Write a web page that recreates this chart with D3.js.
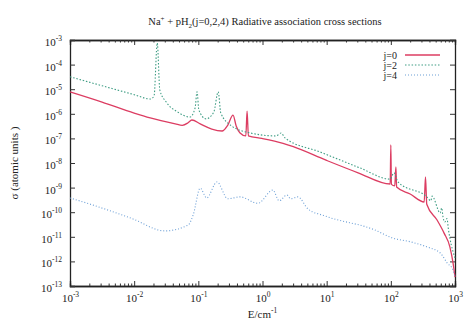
<!DOCTYPE html>
<html>
<head>
<meta charset="utf-8">
<script src="https://cdn.jsdelivr.net/npm/d3@7"></script>
<style>
  body { margin: 0; background: #fff; }
  svg text { font-family: "Liberation Serif", "DejaVu Serif", serif; fill: #222; }
</style>
</head>
<body>
<div id="chart"></div>
<script>
// j=0 (E in cm^-1, sigma in atomic units)
const j0E = [1.0e-3, 3.16e-3, 1.0e-2, 1.78e-2, 4.37e-2, 5.62e-2, 6.92e-2, 7.94e-2, 0.107, 0.162, 0.234,
  0.288, 0.347, 0.389, 0.447, 0.550, 0.575, 0.603, 0.977, 2.09, 3.02, 9.77, 30.9, 97.7, 100, 102, 115, 120,
  123, 200, 331, 347, 363, 525, 676, 832, 933, 1000];
const j0Sigma = [7.8e-6, 3.0e-6, 1.07e-6, 6.8e-7, 3.9e-7, 3.4e-7, 4.3e-7, 5.6e-7, 3.9e-7, 2.4e-7, 2.0e-7,
  3.5e-7, 8.9e-7, 3.2e-7, 1.66e-7, 1.26e-7, 1.29e-6, 1.26e-7, 1.0e-7, 6.3e-8, 4.6e-8, 1.3e-8, 4.0e-9,
  1.4e-9, 5.4e-8, 1.35e-9, 1.17e-9, 6.9e-9, 1.05e-9, 5.5e-10, 2.6e-10, 2.7e-9, 2.1e-10, 4.8e-11,
  1.41e-11, 3.9e-12, 8.5e-13, 2.3e-13];

// j=2
const j2E = [1.0e-3, 3.16e-3, 1.0e-2, 1.78e-2, 2.04e-2, 2.29e-2, 2.51e-2, 3.16e-2, 4.79e-2, 7.41e-2,
  8.91e-2, 9.55e-2, 0.102, 0.132, 0.174, 0.204, 0.224, 0.331, 0.646, 1.62, 1.95, 2.24, 7.94, 33.1, 97.7,
  112, 129, 363, 420, 440, 589, 620, 650, 692, 750, 790, 832, 1000];
const j2Sigma = [3.2e-5, 1.38e-5, 6.0e-6, 4.0e-6, 5.2e-6, 7.6e-4, 9.3e-6, 3.0e-6, 1.17e-6, 7.4e-7,
  1.74e-6, 7.8e-6, 1.41e-6, 6.2e-7, 1.17e-6, 7.8e-6, 1.07e-6, 3.2e-7, 1.66e-7, 1.26e-7, 1.66e-7, 1.05e-7,
  2.8e-8, 6.3e-9, 2.2e-9, 4.0e-9, 1.7e-9, 4.2e-10, 2.9e-10, 4.5e-10, 9.3e-11, 1.5e-10, 6.5e-11, 4.0e-11,
  5.5e-11, 2.0e-11, 8.9e-12, 1.38e-12];

// j=4
const j4E = [1.0e-3, 2.75e-3, 9.1e-3, 3.02e-2, 6.92e-2, 8.32e-2, 0.107, 0.135, 0.195, 0.288, 0.447,
  0.851, 1.45, 1.82, 2.40, 2.75, 3.55, 5.13, 9.33, 56.2, 107, 200, 363, 589, 759, 933, 1000];
const j4Sigma = [3.8e-10, 1.66e-10, 5.6e-11, 1.74e-11, 3.0e-11, 7.8e-11, 9.5e-10, 3.8e-10, 1.7e-9,
  3.5e-10, 4.2e-10, 2.3e-10, 7.9e-10, 2.9e-10, 5.0e-10, 3.5e-10, 4.2e-10, 1.35e-10, 7.1e-11, 1.9e-11,
  8.9e-12, 6.3e-12, 3.9e-12, 2.2e-12, 8.5e-13, 4.5e-13, 2.3e-13];

const xTickExp = [-3, -2, -1, 0, 1, 2, 3];
const yTickExp = [-3, -4, -5, -6, -7, -8, -9, -10, -11, -12, -13];
const legendLabels = ["j=0", "j=2", "j=4"];

const series = [
  { label: legendLabels[0], E: j0E, s: j0Sigma, color: "#dc3d62", dash: null, width: 1.3 },
  { label: legendLabels[1], E: j2E, s: j2Sigma, color: "#3f9d84", dash: "1.5,1.8", width: 1.1 },
  { label: legendLabels[2], E: j4E, s: j4Sigma, color: "#6c9fd6", dash: "1,2", width: 1.1 }
];

const W = 465, H = 329;
const margin = { top: 40, right: 10, bottom: 43, left: 70 };
const width = W - margin.left - margin.right;
const height = H - margin.top - margin.bottom;

const svg = d3.select("#chart").append("svg")
  .attr("width", W).attr("height", H);
const g = svg.append("g")
  .attr("transform", "translate(" + margin.left + "," + margin.top + ")");

const x = d3.scaleLog().domain([1e-3, 1e3]).range([0, width]);
const y = d3.scaleLog().domain([1e-13, 1e-3]).range([height, 0]);

const xMajor = xTickExp.map(e => Math.pow(10, e));
const yMajor = yTickExp.map(e => Math.pow(10, e));
const xMinor = [];
xMajor.slice(0, -1).forEach(d => { for (let k = 2; k < 10; k++) xMinor.push(d * k); });

// superscript labels "10^n"
function powLabel(sel, exps) {
  sel.selectAll(".tick text").each(function(d, i) {
    const t = d3.select(this).text("");
    t.append("tspan").text("10");
    t.append("tspan").attr("dy", "-5").attr("font-size", "7.5px").text(exps[i]);
  });
}

// bottom
const gx = g.append("g").attr("transform", "translate(0," + height + ")")
  .call(d3.axisBottom(x).tickValues(xMajor).tickSize(-5).tickPadding(8).tickFormat(() => ""));
gx.selectAll(".tick text").attr("font-size", "11px");
powLabel(gx, xTickExp);
g.append("g").attr("transform", "translate(0," + height + ")")
  .call(d3.axisBottom(x).tickValues(xMinor).tickSize(-2.5).tickFormat(""));
// top
g.append("g").call(d3.axisTop(x).tickValues(xMajor).tickSize(-5).tickFormat(""));
g.append("g").call(d3.axisTop(x).tickValues(xMinor).tickSize(-2.5).tickFormat(""));
// left
const gy = g.append("g")
  .call(d3.axisLeft(y).tickValues(yMajor).tickSize(-5).tickPadding(8).tickFormat(() => ""));
gy.selectAll(".tick text").attr("font-size", "11px").attr("dy", "0.5em");
powLabel(gy, yTickExp);
// right
g.append("g").attr("transform", "translate(" + width + ",0)")
  .call(d3.axisRight(y).tickValues(yMajor).tickSize(-5).tickFormat(""));

g.selectAll(".domain").attr("stroke", "#222").attr("stroke-width", 1.3);
g.selectAll(".tick line").attr("stroke", "#333");

// curves
const line = d3.line().curve(d3.curveMonotoneX).x(d => x(d[0])).y(d => y(d[1]));
g.append("g").selectAll("path.curve")
  .data(series).enter().append("path")
    .attr("class", "curve")
    .attr("d", d => line(d.E.map((e, i) => [e, d.s[i]])))
    .attr("fill", "none")
    .attr("stroke", d => d.color)
    .attr("stroke-width", d => d.width)
    .attr("stroke-dasharray", d => d.dash)
    .attr("stroke-linejoin", "round");

// legend
const lg = g.append("g").attr("transform", "translate(" + (width - 58) + ",15)");
series.forEach((s, i) => {
  lg.append("text").attr("x", 0).attr("y", i * 10).attr("dy", "0.35em")
    .attr("text-anchor", "end").attr("font-size", "10px").text(s.label);
  lg.append("line").attr("x1", 8).attr("x2", 43).attr("y1", i * 10).attr("y2", i * 10)
    .attr("stroke", s.color).attr("stroke-width", s.width).attr("stroke-dasharray", s.dash);
});

// title
const title = svg.append("text").attr("x", 265).attr("y", 25)
  .attr("text-anchor", "middle").attr("font-size", "10.5px");
title.append("tspan").text("Na");
title.append("tspan").attr("dy", "-4").attr("font-size", "7px").text("+");
title.append("tspan").attr("dy", "4").text(" + pH");
title.append("tspan").attr("dy", "3").attr("font-size", "7px").text("2");
title.append("tspan").attr("dy", "-3").text("(j=0,2,4) Radiative association cross sections");

// axis titles
const xt = svg.append("text").attr("x", margin.left + width / 2).attr("y", H - 11)
  .attr("text-anchor", "middle").attr("font-size", "11px");
xt.append("tspan").text("E/cm");
xt.append("tspan").attr("dy", "-5").attr("font-size", "7.5px").text("-1");

svg.append("text").attr("transform", "translate(18," + (margin.top + height / 2) + ") rotate(-90)")
  .attr("text-anchor", "middle").attr("font-size", "11px").text("σ (atomic units )");
</script>
</body>
</html>
